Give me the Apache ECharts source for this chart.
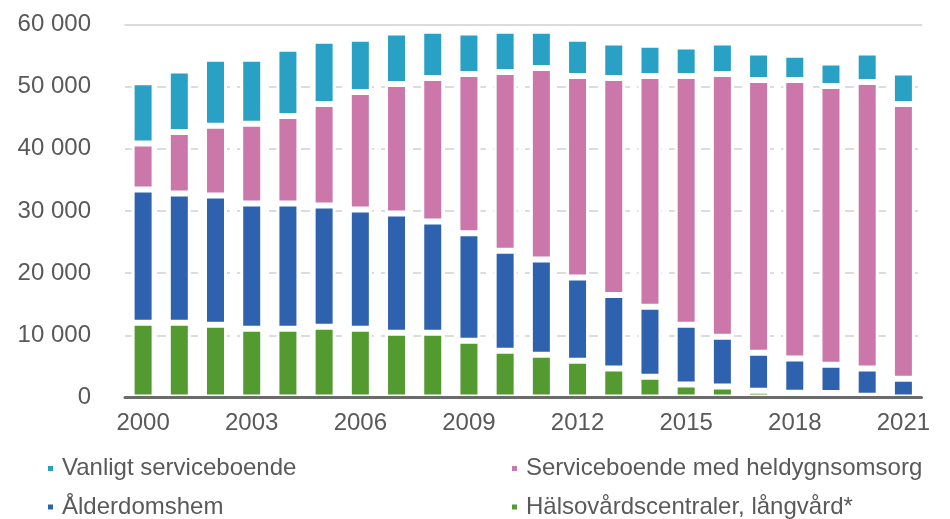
<!DOCTYPE html>
<html><head><meta charset="utf-8">
<script src="https://cdn.jsdelivr.net/npm/echarts@6/dist/echarts.min.js"></script>
<style>html,body{margin:0;padding:0;background:#fff}#c{width:950px;height:519px}</style>
</head><body><div id="c"></div>
<script>
const years = ['2000','2001','2002','2003','2004','2005','2006','2007','2008','2009','2010','2011','2012','2013','2014','2015','2016','2017','2018','2019','2020','2021'];
const halsovard = [12050,12050,11730,11080,11080,11410,11080,10440,10440,9160,7550,6910,5940,4660,3370,2090,1770,1120,800,750,300,0];
const alderdomshem = [21420,20780,20770,20140,20140,19490,19170,19170,17890,17290,16060,15310,13390,11830,11250,9640,8030,6110,5470,4550,4360,3050];
const heldygn = [7390,9900,11200,12800,14080,16330,18910,20830,23080,25600,28760,30790,32400,34920,37110,40000,42250,43850,44810,44820,46100,44180];
const vanligt = [9840,9870,10800,10480,10800,10170,8540,8260,7590,6650,6630,5990,5970,5690,5020,4720,5050,4420,4070,3780,4740,5070];
const names = ['Vanligt serviceboende','Serviceboende med heldygnsomsorg','Ålderdomshem','Hälsovårdscentraler, långvård*'];
const colors = {v:'#29A1C4', p:'#CB77AA', b:'#2F62AE', g:'#539A30'};

const font = 'Liberation Sans, Arial, sans-serif';
const txt = '#595959';
function bar(name, data, color){
  return {name, type:'bar', stack:'s', data, barWidth:23,
    itemStyle:{color, borderColor:'#fff', borderWidth:3}};
}
const legendText = {color:txt, fontSize:24, lineHeight:24, fontFamily:font, padding:[0,0,0,3]};
function leg(name, left, top){
  return {data:[name], left, top, padding:0, icon:'rect', itemWidth:7, itemHeight:7, textStyle:legendText};
}
const chart = echarts.init(document.getElementById('c'), null, {renderer:'canvas'});
chart.setOption({
  animation:false,
  textStyle:{fontFamily:font},
  grid:{left:125, right:28.5, top:24.5, bottom:121.4},
  xAxis:[{type:'category', data:years, z:10,
    axisLine:{lineStyle:{color:'#6b6b6b', width:3}},
    axisTick:{show:false},
    axisLabel:{interval:2, color:txt, fontSize:24, margin:14, fontFamily:font}
  },{type:'category', data:years, position:'top',
    axisLine:{lineStyle:{color:'#dcdcdc', width:2}}, axisTick:{show:false}, axisLabel:{show:false}}],
  yAxis:{type:'value', min:0, max:60000, interval:10000,
    axisLabel:{color:txt, fontSize:24, margin:34, fontFamily:font,
      formatter:v=> v===0?'0':String(v).replace(/\B(?=(\d{3})+(?!\d))/g,' ')},
    splitLine:{lineStyle:{color:'#dcdcdc', width:2, type:[9,7]}},
    axisLine:{show:false}, axisTick:{show:false}},
  legend:[
    leg(names[0], 46, 456.5),
    leg(names[2], 46, 495),
    leg(names[1], 510, 456.5),
    leg(names[3], 510, 495)
  ],
  series:[
    bar(names[3], halsovard, colors.g),
    bar(names[2], alderdomshem, colors.b),
    bar(names[1], heldygn, colors.p),
    bar(names[0], vanligt, colors.v)
  ]
});
</script></body></html>
